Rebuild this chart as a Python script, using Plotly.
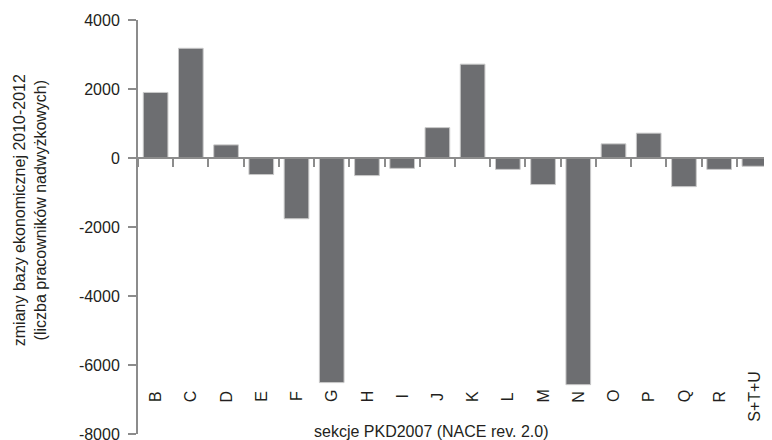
import plotly.graph_objects as go

categories = ["B", "C", "D", "E", "F", "G", "H", "I", "J", "K", "L", "M", "N", "O", "P", "Q", "R", "S+T+U"]
values = [1900, 3180, 380, -480, -1760, -6510, -510, -300, 880, 2720, -330, -770, -6570, 410, 720, -830, -330, -240]
y_ticks = [4000, 2000, 0, -2000, -4000, -6000, -8000]
y_title = "zmiany bazy ekonomicznej 2010-2012<br>(liczba pracowników nadwyżkowych)"
x_title = "sekcje PKD2007 (NACE rev. 2.0)"

FONT = "Liberation Sans, Arial, sans-serif"
TXT = "#231f20"
AX = "#8c8c8c"
FS = 16

fig = go.Figure()
fig.add_trace(go.Bar(
    x=categories, y=values,
    marker=dict(color="#6d6e71", line=dict(color="#c9c9c9", width=1)),
))

annotations = []
for c in categories:
    annotations.append(dict(x=c, y=-6910, xref="x", yref="y", text=c, textangle=-90,
                            showarrow=False, font=dict(family=FONT, size=FS, color=TXT),
                            xanchor="center", yanchor="middle"))
annotations.append(dict(x=-0.170, y=0.541, xref="paper", yref="paper", text=y_title,
                        textangle=-90, showarrow=False, align="center",
                        font=dict(family=FONT, size=FS, color=TXT),
                        xanchor="center", yanchor="middle"))
annotations.append(dict(x=0.462, y=0.007, xref="paper", yref="paper", text=x_title,
                        showarrow=False, font=dict(family=FONT, size=FS, color=TXT),
                        xanchor="center", yanchor="middle"))

# page body has an 8px default margin, so the figure is 8px smaller and offsets are compensated
fig.update_layout(
    width=764, height=432,
    margin=dict(l=130, r=0, t=12, b=6, autoexpand=False),
    paper_bgcolor="white", plot_bgcolor="white",
    showlegend=False,
    bargap=0.3,
    font=dict(family=FONT, size=FS, color=TXT),
    annotations=annotations,
    xaxis=dict(
        anchor="free", position=2/3,
        showline=True, linecolor=AX, linewidth=2,
        ticks="outside", tickson="boundaries", ticklen=8, tickwidth=2, tickcolor=AX,
        showticklabels=False, showgrid=False, zeroline=False, automargin=False,
    ),
    yaxis=dict(
        range=[-8000, 4000], tickvals=y_ticks, ticktext=[str(v) for v in y_ticks],
        showline=True, linecolor=AX, linewidth=2,
        ticks="outside", ticklen=8, tickwidth=2, tickcolor=AX,
        showgrid=False, zeroline=False, automargin=False,
        ticklabeloverflow="allow", ticklabelstandoff=5,
        tickfont=dict(family=FONT, size=FS, color=TXT),
    ),
)

fig.write_html("out.html")
